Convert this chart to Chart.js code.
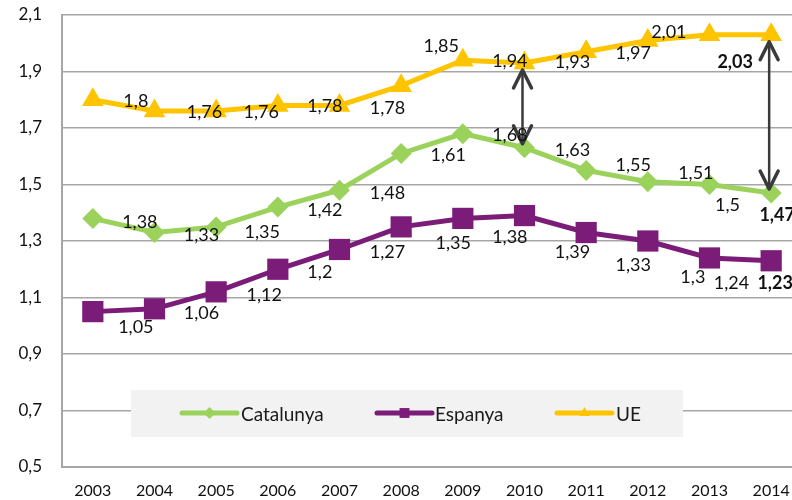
<!DOCTYPE html>
<html lang="ca">
  <head>
    <meta charset="UTF-8">
    <script src="https://cdn.jsdelivr.net/npm/chart.js"></script>
    <title>Catalunya, Espanya, UE</title>
    <style>
      body { margin: 0; overflow: hidden; background: #fff; }
      #wrap { width: 802px; height: 500px; }
    </style>
  </head>
  <body>
    <div id="wrap"><canvas id="myChart" width="802" height="500"></canvas></div>
    <script>
        // data
        const years = ['2003', '2004', '2005', '2006', '2007', '2008', '2009', '2010', '2011', '2012', '2013', '2014'];
        const catalunya = [1.38, 1.33, 1.35, 1.42, 1.48, 1.61, 1.68, 1.63, 1.55, 1.51, 1.50, 1.47];
        const espanya = [1.05, 1.06, 1.12, 1.20, 1.27, 1.35, 1.38, 1.39, 1.33, 1.30, 1.24, 1.23];
        const ue = [1.80, 1.76, 1.76, 1.78, 1.78, 1.85, 1.94, 1.93, 1.97, 2.01, 2.03, 2.03];
        const seriesNames = ['Catalunya', 'Espanya', 'UE'];
        const yMin = 0.5, yMax = 2.1, yStep = 0.2;
        const arrowYears = ['2010', '2014'];   // gap UE - Catalunya
        const boldYears = ['2014'];

        const colors = ['#9bd25c', '#7b1c79', '#ffc400'];
        const font = 'Lato, "Open Sans", sans-serif';

        // where each value label sits, offset from its point (px); null = no label
        const labelOffsets = [
          [[47,4],[47,3],[46,5],[47,3],[48,3],[47,2],[47,2],[48,2],[47,-5],[48,-8],[18,21],[6,22]],
          [[43,16],[47,4],[48,3],[42,3],[48,3],[52,16],[47,19],[48,37],[47,33],[45,36],[22,25],[4,22]],
          [[43,1],[50,1],[45,1],[47,1],[48,3],[40,-39],[47,1],[48,-1],[47,1],[21,-8],null,[-36,27]]
        ];

        const fmt = v => String(Math.round(v * 100) / 100).replace('.', ',');

        const legendBox = {
          id: 'legendBox',
          beforeDatasetsDraw(chart) {
            const c = chart.ctx;
            c.save();
            c.fillStyle = '#f2f2f2';
            c.fillRect(131, 390, 552, 47);
            const items = [[182, 237, 241], [377, 432, 435], [557, 612, 616]];
            const styles = ['rectRot', 'rect', 'triangle'];
            items.forEach((it, i) => {
              c.strokeStyle = colors[i];
              c.lineWidth = 5;
              c.lineCap = 'round';
              c.beginPath();
              c.moveTo(it[0], 413);
              c.lineTo(it[1], 413);
              c.stroke();
              c.fillStyle = colors[i];
              Chart.helpers.drawPoint(c, { pointStyle: styles[i], radius: i === 1 ? 7 : 6, rotation: 0, borderWidth: 0 }, (it[0] + it[1]) / 2, 413);
              c.fillStyle = '#1a1a1a';
              c.font = '19px ' + font;
              c.textBaseline = 'middle';
              c.textAlign = 'left';
              c.fillText(seriesNames[i], it[2], 415);
            });
            c.restore();
          }
        };

        const valueLabels = {
          id: 'valueLabels',
          afterDatasetsDraw(chart) {
            const c = chart.ctx;
            c.save();
            c.fillStyle = '#111';
            c.textAlign = 'center';
            c.textBaseline = 'middle';
            chart.data.datasets.forEach((ds, d) => {
              const meta = chart.getDatasetMeta(d);
              meta.data.forEach((pt, i) => {
                const off = labelOffsets[d][i];
                if (!off) return;
                const bold = boldYears.includes(years[i]);
                c.font = (bold ? 'bold ' : '') + '18px ' + font;
                c.fillText(fmt(ds.data[i]), pt.x + off[0], pt.y + off[1]);
              });
            });
            c.restore();
          }
        };

        const gapArrows = {
          id: 'gapArrows',
          afterDatasetsDraw(chart) {
            const c = chart.ctx;
            const xs = chart.scales.x, ys = chart.scales.y;
            c.save();
            c.strokeStyle = '#3a3a3a';
            c.lineCap = 'round';
            c.lineJoin = 'round';
            arrowYears.forEach(yr => {
              const i = years.indexOf(yr);
              const x = xs.getPixelForValue(i) - 2;
              const top = ys.getPixelForValue(ue[i]) + 7;
              const bot = ys.getPixelForValue(catalunya[i]) - 4;
              c.lineWidth = 2.5;
              c.beginPath();
              c.moveTo(x, top);
              c.lineTo(x, bot);
              c.stroke();
              c.lineWidth = 3.5;
              c.beginPath();
              c.moveTo(x - 9, top + 18); c.lineTo(x, top); c.lineTo(x + 9, top + 18);
              c.moveTo(x - 9, bot - 18); c.lineTo(x, bot); c.lineTo(x + 9, bot - 18);
              c.stroke();
            });
            c.restore();
          }
        };

        const ctx = document.getElementById('myChart');
        const series = [catalunya, espanya, ue];
        const pointStyles = ['rectRot', 'rect', 'triangle'];
        const pointSizes = [10.5, 15, 12.5];

        new Chart(ctx, {
          type: 'line',
          data: {
            labels: years,
            datasets: series.map((s, i) => ({
              label: seriesNames[i],
              data: s,
              borderColor: colors[i],
              backgroundColor: colors[i],
              borderWidth: 5,
              pointStyle: pointStyles[i],
              pointRadius: pointSizes[i],
              pointBorderWidth: 0,
              tension: 0,
              clip: false
            }))
          },
          options: {
            responsive: false,
            animation: false,
            layout: { autoPadding: false, padding: { top: 15, right: 0, left: 0, bottom: 0 } },
            plugins: { legend: { display: false }, tooltip: { enabled: false } },
            scales: {
              x: {
                offset: true,
                afterFit(scale) { scale.height = 33; scale.paddingLeft = 0; scale.paddingRight = 0; },
                grid: { drawOnChartArea: false, drawTicks: true, tickLength: 14, tickColor: 'rgba(0,0,0,0)', color: 'rgba(0,0,0,0)' },
                border: { color: '#a6a6a6', width: 2 },
                ticks: { color: '#111', font: { family: font, size: 16 }, padding: 0, maxRotation: 0 }
              },
              y: {
                min: yMin,
                max: yMax,
                afterFit(scale) { scale.width = 62; },
                grid: { color: '#a6a6a6', lineWidth: 1.5, drawTicks: true, tickLength: 20, tickColor: 'rgba(0,0,0,0)' },
                border: { color: '#a6a6a6', width: 2 },
                ticks: {
                  stepSize: yStep,
                  color: '#111',
                  padding: 0,
                  font: { family: font, size: 17 },
                  callback: v => v.toFixed(1).replace('.', ',')
                }
              }
            }
          },
          plugins: [legendBox, gapArrows, valueLabels]
        });
    </script>
  </body>
</html>
